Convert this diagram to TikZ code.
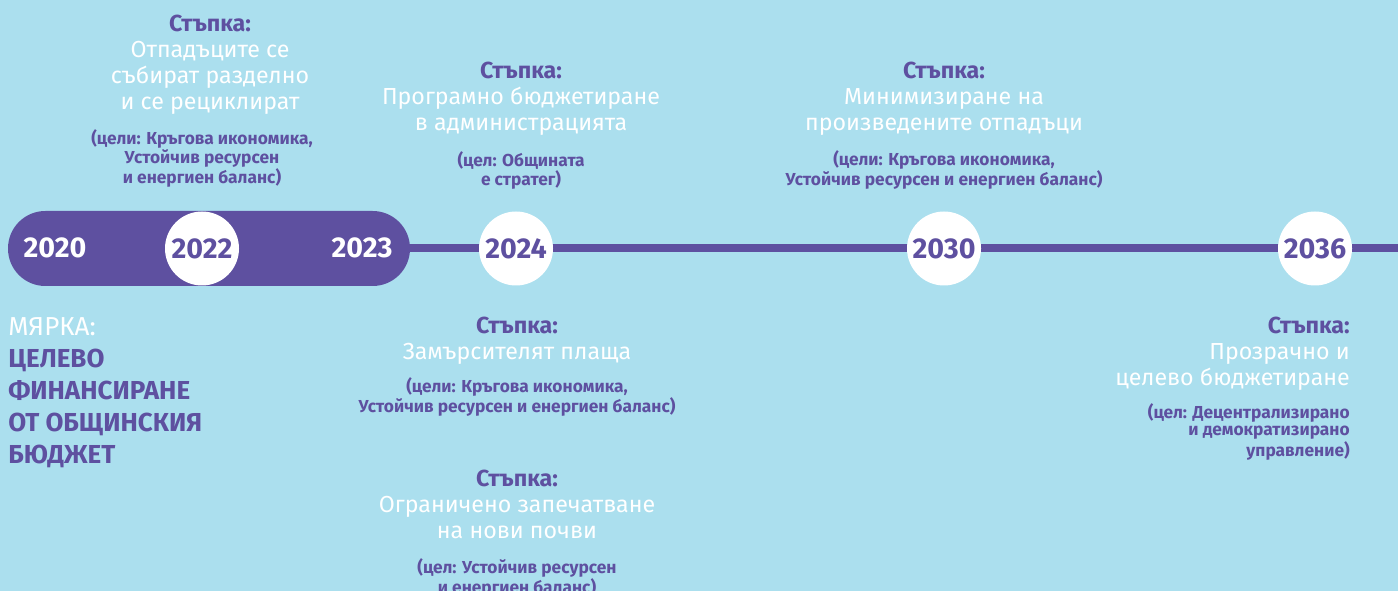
\documentclass[tikz,border=0pt]{standalone}
\usepackage{fontspec}
\setmainfont{Fira Sans}[Script=Cyrillic,Language=Bulgarian]
\usetikzlibrary{positioning}
\definecolor{skyblue}{HTML}{ABDFEE}
\definecolor{tlviolet}{HTML}{5E50A0}

\begin{document}
\begin{tikzpicture}[
    x=0.75pt, y=-0.75pt,
    node distance=12pt,
    every node/.style={inner sep=0pt},
    pill/.style={fill=tlviolet, rounded corners=28pt, minimum width=301.5pt, minimum height=56.25pt},
    track/.style={draw=tlviolet, line width=6pt},
    year/.style={circle, fill=white, minimum size=55.5pt, text=tlviolet, font=\fontsize{21.5}{24}\selectfont\bfseries},
    barlabel/.style={text=white, font=\fontsize{21.5}{24}\selectfont\bfseries},
    stepbox/.style={align=center, text=white, font=\fontsize{17.4}{19.5}\selectfont},
    goal/.style={align=center, text=tlviolet, font=\fontsize{13}{12.9}\selectfont\bfseries},
    measure/.style={align=left, anchor=west, font=\fontsize{19.5}{24}\selectfont}
]
\fill[skyblue] (0,0) rectangle (1398,591);
\useasboundingbox (0,0) rectangle (1398,591);

% timeline
\node[pill] (bar) at (209,248.5) {};
\coordinate (lineend) at (1398,248.5);
\draw[track] (bar.east) -- (lineend);
\node[barlabel] (y2020) at (55,248) {2020};
\node[barlabel] (y2023) at (362,248) {2023};
\node[year] (y2022) at (202,248.5) {2022};
\node[year] (y2024) at (516,248.5) {2024};
\node[year] (y2030) at (944,248.5) {2030};
\node[year] (y2036) at (1315,248.5) {2036};

% steps above the line
\node[stepbox] (sep) at (210,65) {\textcolor{tlviolet}{\bfseries Стъпка:}\\Отпадъците се\\събират разделно\\и се рециклират};
\node[goal, below=11pt of sep, xshift=-6pt] (sepgoal) {(цели: Кръгова икономика,\\Устойчив ресурсен\\и енергиен баланс)};
\node[stepbox] (prog) at (521,99) {\textcolor{tlviolet}{\bfseries Стъпка:}\\Програмно бюджетиране\\в администрацията};
\node[goal, below=11.5pt of prog] (proggoal) {(цел: Общината\\е стратег)};
\node[stepbox] (mini) at (944,99) {\textcolor{tlviolet}{\bfseries Стъпка:}\\Минимизиране на\\произведените отпадъци};
\node[goal, below=10.5pt of mini] (minigoal) {(цели: Кръгова икономика,\\Устойчив ресурсен и енергиен баланс)};

% below the line
\node[measure] (meas) at (8,392.5) {\textcolor{white}{МЯРКА:}\\\textcolor{tlviolet}{\bfseries ЦЕЛЕВО}\\\textcolor{tlviolet}{\bfseries ФИНАНСИРАНЕ}\\\textcolor{tlviolet}{\bfseries ОТ ОБЩИНСКИЯ}\\\textcolor{tlviolet}{\bfseries БЮДЖЕТ}};
\node[stepbox] (poll) at (517,341) {\textcolor{tlviolet}{\bfseries Стъпка:}\\Замърсителят плаща};
\node[goal, below=9pt of poll] (pollgoal) {(цели: Кръгова икономика,\\Устойчив ресурсен и енергиен баланс)};
\node[stepbox] (soil) at (517,504) {\textcolor{tlviolet}{\bfseries Стъпка:}\\Ограничено запечатване\\на нови почви};
\node[goal, below=14.5pt of soil] (soilgoal) {(цел: Устойчив ресурсен\\и енергиен баланс)};
\node[stepbox, align=right, anchor=east] (budg) at (1350,354) {\textcolor{tlviolet}{\bfseries Стъпка:}\\Прозрачно и\\целево бюджетиране};
\node[goal, align=right, below=9.5pt of budg.south east, anchor=north east] (budggoal) {(цел: Децентрализирано\\и демократизирано\\управление)};
\end{tikzpicture}
\end{document}
